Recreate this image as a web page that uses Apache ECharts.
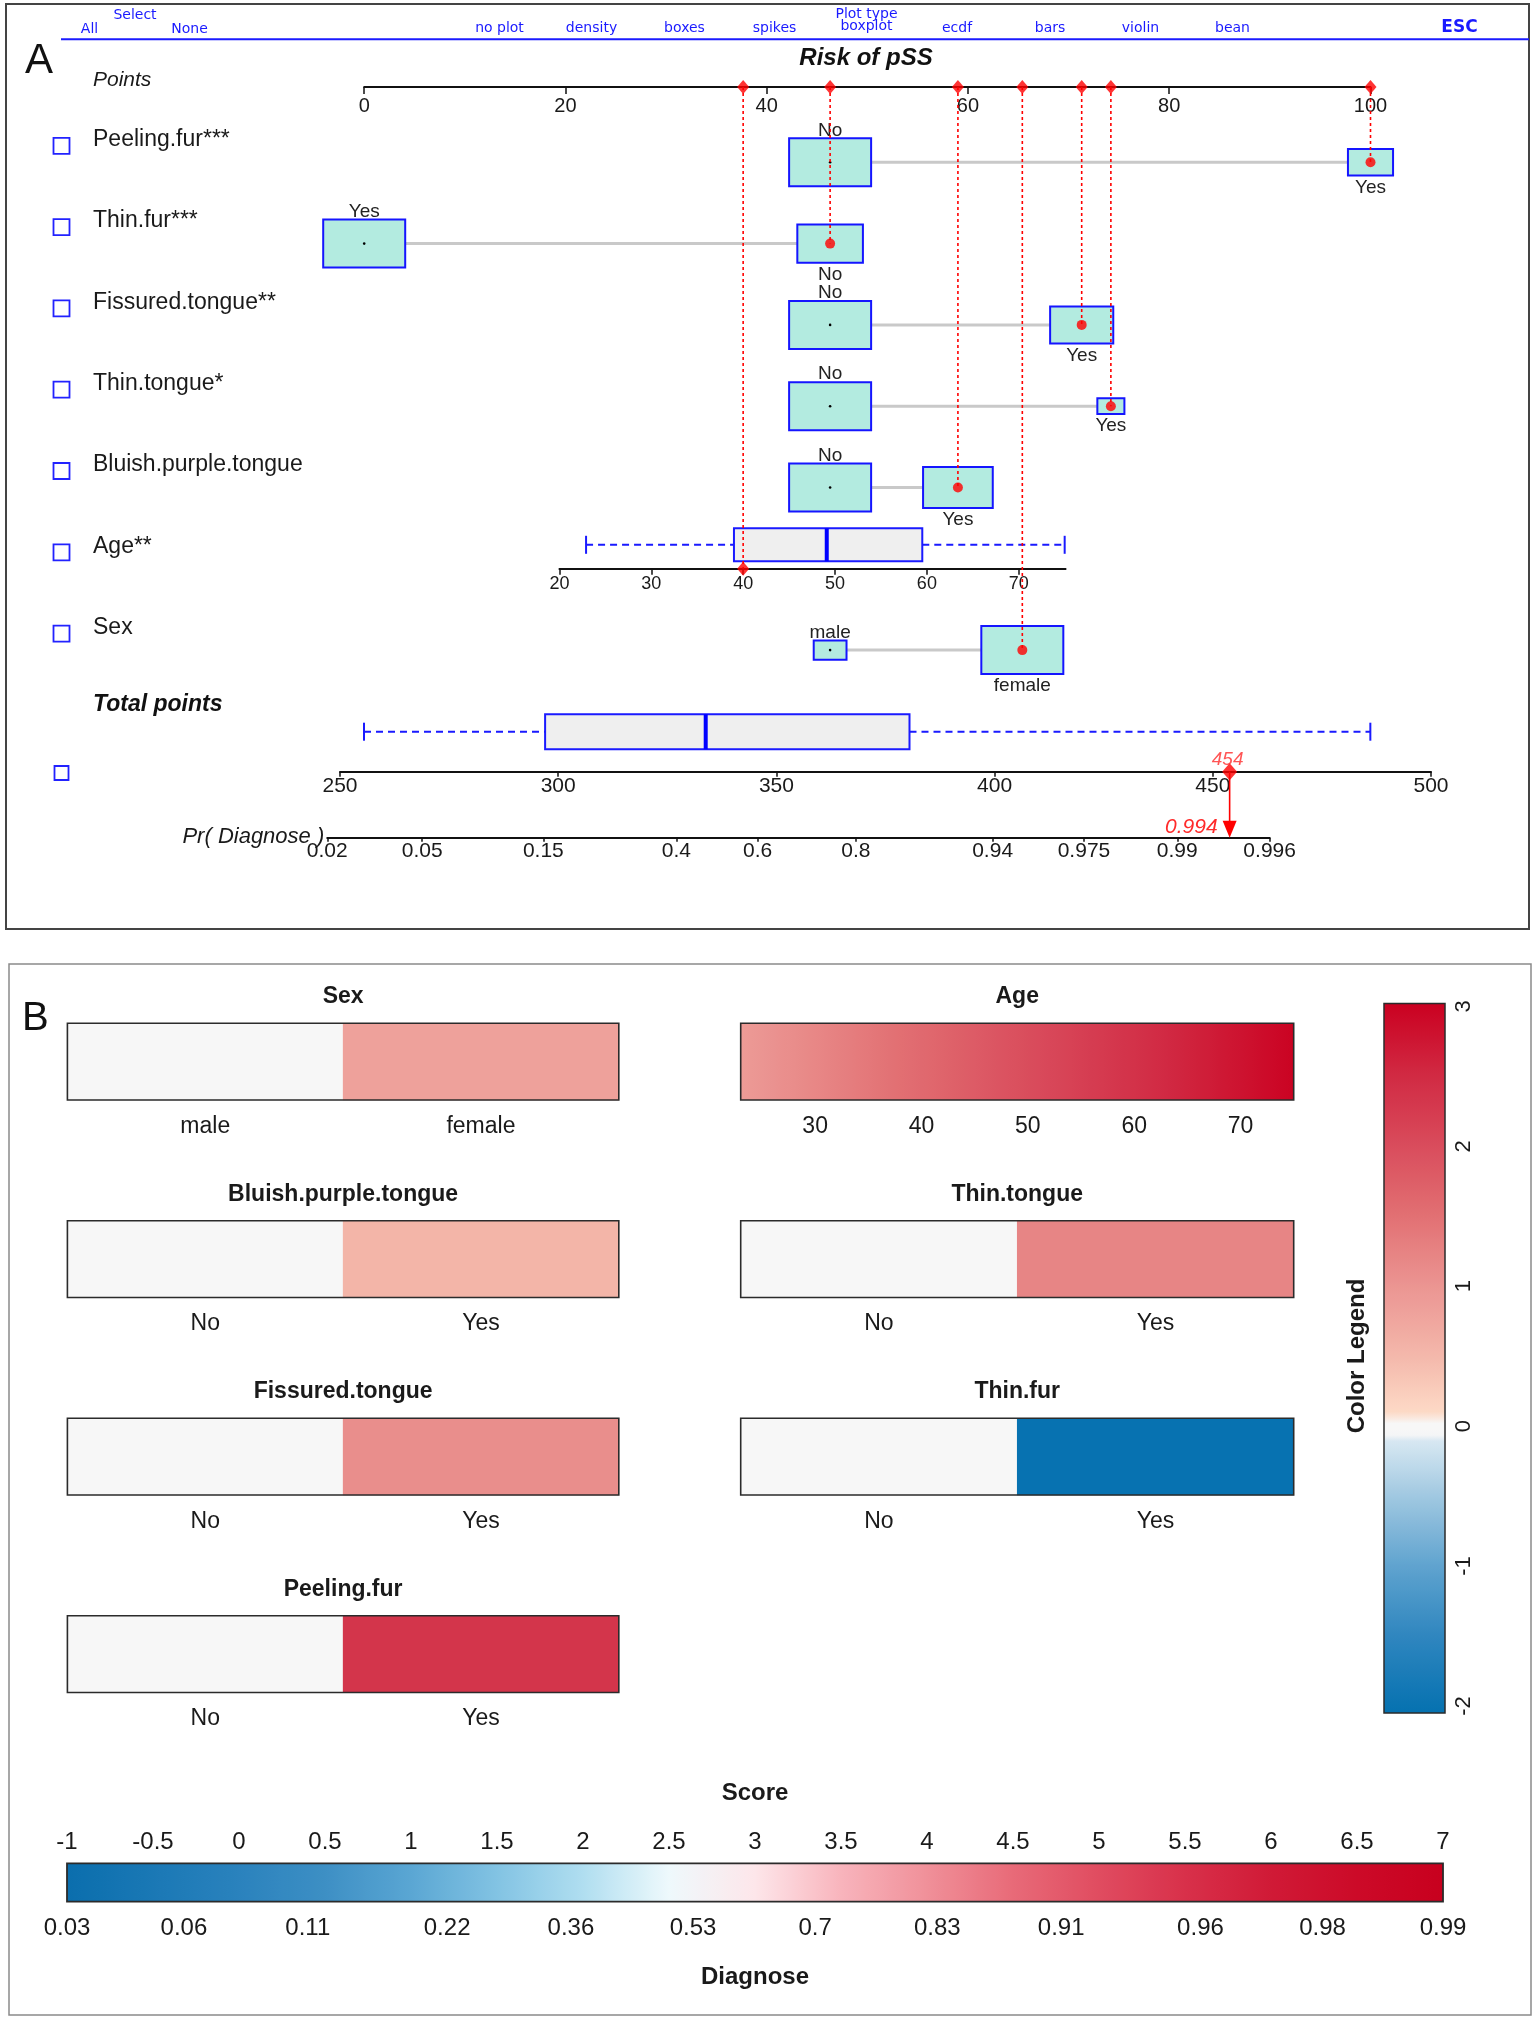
<!DOCTYPE html>
<html><head><meta charset="utf-8">
<script src="https://cdn.jsdelivr.net/npm/echarts@6/dist/echarts.min.js"></script>
<style>html,body{margin:0;padding:0;background:#fff}#c{width:1535px;height:2021px}</style>
</head><body><div id="c"></div>
<script>
// ================= DATA =================
// ---- Panel A : nomogram ----
const rowLabels = ['Peeling.fur***','Thin.fur***','Fissured.tongue**','Thin.tongue*','Bluish.purple.tongue','Age**','Sex'];
const catRowIndex = [0,1,2,3,4,6];
const catLevels  = [['No','Yes'],['Yes','No'],['No','Yes'],['No','Yes'],['No','Yes'],['male','female']];
const catPoints  = [[46.3,100],[0,46.3],[46.3,71.3],[46.3,74.2],[46.3,59.0],[46.3,65.4]];
const catBoxSize = [[1.0,0.55],[1.0,0.80],[1.0,0.77],[1.0,0.33],[1.0,0.85],[0.40,1.0]]; // relative frequency size
const catSelected = [1,1,1,1,1,1];
const ageRowIndex = 5;
const ageAxisTicks = [20,30,40,50,60,70];
const ageAxisRange = [20, 75.1];
const ageAxisPoints = [19.4, 69.7];          // points scale value of the age axis ends
const ageBox = [22.9, 39.0, 49.1, 59.5, 75.0];
const ageSelected = 40;
const pointsRange = [0, 100];
const totalRange = [250, 500];
const totalBox = [255.5, 297.0, 333.8, 380.5, 486.1];
const prTicks = [0.02,0.05,0.15,0.4,0.6,0.8,0.94,0.975,0.99,0.996];
const prPointsAtHalf = 336.4, prPointsPerLogit = 22.95;
const menuItems = [['All',89.5,29],['Select',135,15],['None',189.5,29],['no plot',499.5,28],['density',591.5,28],
  ['boxes',684.5,28],['spikes',774.5,28],['Plot type',866.5,14.5],['boxplot',866.5,26.5],['ecdf',957,28],
  ['bars',1050,28],['violin',1140.5,28],['bean',1232.5,28]];

// ---- Panel B : effect tiles ----
const tileNames   = ['Sex','Age','Bluish.purple.tongue','Thin.tongue','Fissured.tongue','Thin.fur','Peeling.fur'];
const tileLevels  = [['male','female'],null,['No','Yes'],['No','Yes'],['No','Yes'],['No','Yes'],['No','Yes']];
const tileEffects = [[0,0.83],null,[0,0.55],[0,1.22],[0,1.09],[0,-2.02],[0,2.34]];
const ageCoef = 0.0398;
const ageDataRange = [23, 75];
const ageTileTicks = [30,40,50,60,70];
const legendRange = [-2.05, 3.02];
const legendTicks = [-2,-1,0,1,2,3];
const scoreRange = [-1, 7];
const diagTickScores = [-1.0,-0.32,0.40,1.21,1.93,2.64,3.35,4.06,4.78,5.59,6.30,7.0];
const diagTickLabels = ['0.03','0.06','0.11','0.22','0.36','0.53','0.7','0.83','0.91','0.96','0.98','0.99'];

// ================= STYLE / LAYOUT =================
const FONT = 'Liberation Sans, Arial, sans-serif';
const MFONT = 'DejaVu Sans, sans-serif';
const TXT = '#1a1a1a';
const LA = {ptsLeft:364.2, ptsPx:10.063, axisY:87, row0:162.3, rowPitch:81.3, boxW:82, boxH:48,
            totLeft:340, totPx:4.364, totAxisY:771.7, prAxisY:837.7};
const tileCmap = [[-2.05,'#0571b0'],[-1.5,'#2f86bf'],[-1.0,'#5fa3cf'],[-0.5,'#a0c8e1'],[-0.1,'#d8e8f2'],
  [-0.06,'#f7f7f7'],[0.04,'#f7f7f7'],[0.08,'#fddbc7'],[0.5,'#f4b8ab'],[1.0,'#eb9592'],[1.5,'#e27073'],
  [2.0,'#d94c5c'],[2.5,'#d12a43'],[3.02,'#ca0020']];
const scoreCmap = [[-1,'#0a6ead'],[0,'#2a82bd'],[0.5,'#3d8fc4'],[1,'#5aa6d3'],[1.5,'#82c3e3'],[2,'#b0def0'],
  [2.5,'#eef9fc'],[3,'#fde6ea'],[3.5,'#f8b4bc'],[4,'#f09099'],[4.5,'#e86a78'],[5,'#e04c60'],[5.5,'#d8304a'],
  [6,'#d01a36'],[6.5,'#cc0a28'],[7,'#c8001e']];

function hex(h){return [parseInt(h.slice(1,3),16),parseInt(h.slice(3,5),16),parseInt(h.slice(5,7),16)];}
function cmap(stops, v){
  if (v <= stops[0][0]) return stops[0][1];
  if (v >= stops[stops.length-1][0]) return stops[stops.length-1][1];
  for (let i=0;i<stops.length-1;i++){
    const a=stops[i], b=stops[i+1];
    if (v>=a[0] && v<=b[0]){
      const t=(v-a[0])/(b[0]-a[0]); const ca=hex(a[1]), cb=hex(b[1]);
      return 'rgb('+ca.map((c,k)=>Math.round(c+(cb[k]-c)*t)).join(',')+')';
    }
  }
}
function gradStops(stops, v0, v1, n){
  const out=[]; for(let i=0;i<=n;i++){const v=v0+(v1-v0)*i/n; out.push({offset:i/n, color:cmap(stops,v)});} return out;
}

const rowY = i => LA.row0 + i*LA.rowPitch;
const yMin = -(LA.row0 - LA.axisY)/LA.rowPitch;
const ptsToPx = p => LA.ptsLeft + p*LA.ptsPx;
const totToPx = t => LA.totLeft + (t-totalRange[0])*LA.totPx;
const ageToPts = a => ageAxisPoints[0] + (a-ageAxisRange[0])*(ageAxisPoints[1]-ageAxisPoints[0])/(ageAxisRange[1]-ageAxisRange[0]);
const logit = p => Math.log(p/(1-p));
const prToTotal = p => prPointsAtHalf + prPointsPerLogit*logit(p);
const totalToPr = t => 1/(1+Math.exp(-(t-prPointsAtHalf)/prPointsPerLogit));

const selPts = catPoints.map((p,k)=>p[catSelected[k]]);
const agePts = ageToPts(ageSelected);
const totalScore = selPts.reduce((a,b)=>a+b,0) + agePts;

const grids=[], xAxes=[], yAxes=[], series=[];
function addGrid(g){grids.push(Object.assign({containLabel:false, outerBoundsMode:'none', show:false}, g)); return grids.length-1;}
const lbl = (size, extra) => Object.assign({fontSize:size, color:TXT, fontFamily:FONT}, extra||{});

// ---------- rows grid (points scale) ----------
const gRows = addGrid({left:ptsToPx(0), top:LA.axisY, width:ptsToPx(100)-ptsToPx(0), height:rowY(6.5)-LA.axisY});
xAxes.push({gridIndex:gRows, type:'value', min:pointsRange[0], max:pointsRange[1], interval:20, position:'top',
  axisLine:{show:true, onZero:false, lineStyle:{color:'#111', width:2}},
  axisTick:{show:true, inside:true, length:7, lineStyle:{color:'#111', width:1.5}},
  axisLabel:lbl(20,{inside:true, margin:9}), splitLine:{show:false}});
yAxes.push({gridIndex:gRows, type:'value', min:yMin, max:6.5, inverse:true, show:false});
const xRows = xAxes.length-1, yRows = yAxes.length-1;

// connectors
series.push({type:'custom', xAxisIndex:xRows, yAxisIndex:yRows, z:2, silent:true,
  data: catRowIndex.map((r,k)=>[catPoints[k][0], catPoints[k][1], r]),
  renderItem:(p,api)=>{const a=api.coord([api.value(0),api.value(2)]), b=api.coord([api.value(1),api.value(2)]);
    return {type:'line', shape:{x1:a[0],y1:a[1],x2:b[0],y2:b[1]}, style:{stroke:'#c9c9c9', lineWidth:3}};}});
// boxes with level labels
const boxData=[];
catRowIndex.forEach((r,k)=>{
  const lowIdx = catPoints[k][0] <= catPoints[k][1] ? 0 : 1;
  [0,1].forEach(j=>boxData.push([catPoints[k][j], r, catBoxSize[k][j], j===catSelected[k]?1:0, j===lowIdx?-1:1, catLevels[k][j]]));
});
series.push({type:'custom', xAxisIndex:xRows, yAxisIndex:yRows, z:3, silent:true, data:boxData,
  renderItem:(p,api)=>{
    const d=boxData[p.dataIndex]; const c=api.coord([d[0],d[1]]);
    const w=d[2]*LA.boxW, h=d[2]*LA.boxH;
    const ch=[{type:'rect', shape:{x:c[0]-w/2, y:c[1]-h/2, width:w, height:h}, style:{fill:'#b3ebe0', stroke:'#1515ff', lineWidth:2}}];
    if(!d[3]) ch.push({type:'circle', shape:{cx:c[0], cy:c[1], r:1.3}, style:{fill:'#000'}});
    ch.push({type:'text', x:c[0], y: d[4]<0 ? c[1]-h/2-8 : c[1]+h/2+12,
      style:{text:d[5], fontSize:19, fontFamily:FONT, fill:'#222', align:'center', verticalAlign:'middle'}});
    return {type:'group', children:ch};
  }});
// dotted verticals
const vData = catRowIndex.map((r,k)=>[selPts[k], r]).concat([[agePts, ageRowIndex]]);
series.push({type:'custom', xAxisIndex:xRows, yAxisIndex:yRows, z:4, silent:true, data:vData,
  renderItem:(p,api)=>{const a=api.coord([api.value(0), yMin]), b=api.coord([api.value(0), api.value(1)]);
    return {type:'line', shape:{x1:a[0],y1:a[1],x2:b[0],y2:b[1]}, style:{stroke:'#ff0000', lineWidth:1.6, lineDash:[3,3]}};}});
// selected dots
series.push({type:'scatter', xAxisIndex:xRows, yAxisIndex:yRows, z:5, silent:true, clip:false, symbol:'circle', symbolSize:10,
  itemStyle:{color:'#ff0000'}, data: catRowIndex.map((r,k)=>[selPts[k], r])});
// diamonds on points axis
series.push({type:'scatter', xAxisIndex:xRows, yAxisIndex:yRows, z:6, silent:true, clip:false, symbol:'diamond', symbolSize:[12,14],
  itemStyle:{color:'#ff0000'}, data: selPts.concat([agePts]).map(v=>[v, yMin])});

// ---------- boxplot renderer ----------
function boxItem(halfH, capH){
  return (p,api)=>{
    const q=[0,1,2,3,4].map(i=>api.value(i));
    const yc=api.coord([q[2],0.5])[1]; const X=v=>api.coord([v,0.5])[0];
    const ds={stroke:'#1a1aff', lineWidth:2, lineDash:[7,5]};
    return {type:'group', children:[
      {type:'line', shape:{x1:X(q[0]),y1:yc,x2:X(q[1]),y2:yc}, style:ds},
      {type:'line', shape:{x1:X(q[3]),y1:yc,x2:X(q[4]),y2:yc}, style:ds},
      {type:'line', shape:{x1:X(q[0]),y1:yc-capH,x2:X(q[0]),y2:yc+capH}, style:{stroke:'#1a1aff', lineWidth:2}},
      {type:'line', shape:{x1:X(q[4]),y1:yc-capH,x2:X(q[4]),y2:yc+capH}, style:{stroke:'#1a1aff', lineWidth:2}},
      {type:'rect', shape:{x:X(q[1]), y:yc-halfH, width:X(q[3])-X(q[1]), height:2*halfH}, style:{fill:'#efefef', stroke:'#1a1aff', lineWidth:2}},
      {type:'line', shape:{x1:X(q[2]),y1:yc-halfH,x2:X(q[2]),y2:yc+halfH}, style:{stroke:'#0000ff', lineWidth:4}}
    ]};
  };
}

// ---------- age axis grid ----------
const gAge = addGrid({left:ptsToPx(ageAxisPoints[0]), width:ptsToPx(ageAxisPoints[1])-ptsToPx(ageAxisPoints[0]), top:rowY(ageRowIndex)-48, height:48});
xAxes.push({gridIndex:gAge, type:'value', min:ageAxisRange[0], max:ageAxisRange[1], position:'bottom',
  axisLine:{show:true, onZero:false, lineStyle:{color:'#111', width:2}},
  axisTick:{show:true, length:6, customValues:ageAxisTicks, lineStyle:{color:'#111', width:1.5}},
  axisLabel:lbl(18,{margin:6, customValues:ageAxisTicks}), splitLine:{show:false}});
yAxes.push({gridIndex:gAge, type:'value', min:0, max:1, show:false});
const xAge=xAxes.length-1, yAge=yAxes.length-1;
series.push({type:'custom', xAxisIndex:xAge, yAxisIndex:yAge, z:3, silent:true, data:[ageBox], renderItem:boxItem(16.5,9)});
series.push({type:'scatter', xAxisIndex:xAge, yAxisIndex:yAge, z:6, silent:true, clip:false, symbol:'diamond', symbolSize:[12,14],
  itemStyle:{color:'#ff0000'}, data:[[ageSelected,0]]});

// ---------- total points grid ----------
const gTot = addGrid({left:totToPx(totalRange[0]), width:totToPx(totalRange[1])-totToPx(totalRange[0]), top:LA.totAxisY-80, height:80});
xAxes.push({gridIndex:gTot, type:'value', min:totalRange[0], max:totalRange[1], interval:50, position:'bottom',
  axisLine:{show:true, onZero:false, lineStyle:{color:'#111', width:2}},
  axisTick:{show:true, length:5, lineStyle:{color:'#111', width:1.5}},
  axisLabel:lbl(21,{margin:4}), splitLine:{show:false}});
yAxes.push({gridIndex:gTot, type:'value', min:0, max:1, show:false});
const xTot=xAxes.length-1, yTot=yAxes.length-1;
series.push({type:'custom', xAxisIndex:xTot, yAxisIndex:yTot, z:3, silent:true, data:[totalBox], renderItem:boxItem(17.5,9)});
series.push({type:'scatter', xAxisIndex:xTot, yAxisIndex:yTot, z:6, silent:true, clip:false, symbol:'diamond', symbolSize:[15,17],
  itemStyle:{color:'#ff0000'}, data:[[totalScore,0]],
  label:{show:true, position:'inside', offset:[-2,-12], formatter:()=>String(Math.round(totalScore)),
    color:'#ff2a2a', fontStyle:'italic', fontSize:19, fontFamily:FONT}});

// ---------- Pr( Diagnose ) grid ----------
const prLeft = totToPx(prToTotal(prTicks[0])), prRight = totToPx(prToTotal(prTicks[prTicks.length-1]));
const gPr = addGrid({left:prLeft, width:prRight-prLeft, top:LA.totAxisY, height:LA.prAxisY-LA.totAxisY});
const prTickVals = prTicks.map(prToTotal);
xAxes.push({gridIndex:gPr, type:'value', min:prTickVals[0], max:prTickVals[prTickVals.length-1], position:'bottom',
  axisLine:{show:true, onZero:false, lineStyle:{color:'#111', width:2}},
  axisTick:{show:true, length:4, customValues:prTickVals, lineStyle:{color:'#111', width:1.5}},
  axisLabel:lbl(21,{margin:3, customValues:prTickVals, formatter:v=>{let bi=0,bd=1e9; prTickVals.forEach((t,i)=>{const d=Math.abs(t-v); if(d<bd){bd=d;bi=i;}}); return String(prTicks[bi]);}}),
  splitLine:{show:false}});
yAxes.push({gridIndex:gPr, type:'value', min:0, max:1, show:false});
const xPr=xAxes.length-1, yPr=yAxes.length-1;
series.push({type:'custom', xAxisIndex:xPr, yAxisIndex:yPr, z:6, silent:true, data:[[totalScore]],
  renderItem:(p,api)=>{
    const t=api.coord([api.value(0),1]), b=api.coord([api.value(0),0]);
    return {type:'group', children:[
      {type:'line', shape:{x1:t[0],y1:t[1],x2:b[0],y2:b[1]-15}, style:{stroke:'#ff0000', lineWidth:1.6}},
      {type:'polygon', shape:{points:[[b[0]-7,b[1]-17],[b[0]+7,b[1]-17],[b[0],b[1]]]}, style:{fill:'#ff0000'}},
      {type:'text', x:b[0]-12, y:b[1]-11, style:{text:totalToPr(totalScore).toFixed(3), fontSize:21, fontStyle:'italic',
        fontFamily:FONT, fill:'#ff2a2a', align:'right', verticalAlign:'middle'}}
    ]};
  }});

// ================= Panel B =================
const TB = {colLeft:[67.4,740.7], colWidth:[551.4,553], top0:1023.3, pitch:197.5, h:76.7};
const heatIdx=[];
const outlineItem=(p,api)=>{const cs=p.coordSys; return {type:'rect', shape:{x:cs.x,y:cs.y,width:cs.width,height:cs.height}, style:{fill:'none', stroke:'#2b2b2b', lineWidth:1.6}};};
const tileTitles=[];
tileNames.forEach((name,k)=>{
  const col=k%2, row=Math.floor(k/2);
  const g=addGrid({left:TB.colLeft[col], width:TB.colWidth[col], top:TB.top0+row*TB.pitch, height:TB.h});
  tileTitles.push([name, TB.colLeft[col]+TB.colWidth[col]/2, TB.top0+row*TB.pitch-26.6]);
  if (tileLevels[k]) {
    xAxes.push({gridIndex:g, type:'category', data:tileLevels[k], axisLine:{show:false}, axisTick:{show:false},
      axisLabel:lbl(23,{margin:15}), splitLine:{show:false}});
    yAxes.push({gridIndex:g, type:'category', data:[''], show:false});
    const xi=xAxes.length-1, yi=yAxes.length-1;
    heatIdx.push(series.length);
    series.push({type:'heatmap', xAxisIndex:xi, yAxisIndex:yi, silent:true, z:2,
      data: tileEffects[k].map((v,j)=>[j,0,v]), itemStyle:{borderWidth:0}, emphasis:{disabled:true}});
    series.push({type:'custom', xAxisIndex:xi, yAxisIndex:yi, z:5, silent:true, data:[[0,0]], renderItem:outlineItem});
  } else {
    xAxes.push({gridIndex:g, type:'value', min:ageDataRange[0], max:ageDataRange[1], axisLine:{show:false}, axisTick:{show:false},
      axisLabel:lbl(23,{margin:15, customValues:ageTileTicks}), splitLine:{show:false}});
    yAxes.push({gridIndex:g, type:'value', min:0, max:1, show:false});
    const xi=xAxes.length-1, yi=yAxes.length-1;
    series.push({type:'custom', xAxisIndex:xi, yAxisIndex:yi, z:2, silent:true, data:[ageDataRange],
      renderItem:(p,api)=>{
        const a0=api.value(0), a1=api.value(1); const p0=api.coord([a0,0]), p1=api.coord([a1,1]);
        const stops=[]; for(let a=a0;a<=a1;a++) stops.push({offset:(a-a0)/(a1-a0), color:cmap(tileCmap, ageCoef*a)});
        return {type:'rect', shape:{x:p0[0], y:p1[1], width:p1[0]-p0[0], height:p0[1]-p1[1]},
          style:{fill:new echarts.graphic.LinearGradient(0,0,1,0,stops)}};
      }});
    series.push({type:'custom', xAxisIndex:xi, yAxisIndex:yi, z:5, silent:true, data:[[ageDataRange[0],0]], renderItem:outlineItem});
  }
});

// ---------- colour legend ----------
const gLeg = addGrid({left:1384, top:1003.6, width:61, height:709.4});
xAxes.push({gridIndex:gLeg, type:'value', min:0, max:1, show:false});
yAxes.push({gridIndex:gLeg, type:'value', min:legendRange[0], max:legendRange[1], show:false});
const xLeg=xAxes.length-1, yLeg=yAxes.length-1;
series.push({type:'custom', xAxisIndex:xLeg, yAxisIndex:yLeg, z:2, silent:true, data:[legendRange],
  renderItem:(p,api)=>{const b=api.coord([0,api.value(0)]), t=api.coord([1,api.value(1)]);
    return {type:'rect', shape:{x:b[0], y:t[1], width:t[0]-b[0], height:b[1]-t[1]},
      style:{fill:new echarts.graphic.LinearGradient(0,1,0,0, gradStops(tileCmap, legendRange[0], legendRange[1], 120)), stroke:'#2b2b2b', lineWidth:1.5}};}});
series.push({type:'custom', xAxisIndex:xLeg, yAxisIndex:yLeg, z:5, silent:true, data:legendTicks.map(v=>[1,v]),
  renderItem:(p,api)=>{const c=api.coord([1,api.value(1)]);
    return {type:'text', x:c[0]+19, y:c[1], rotation:Math.PI/2,
      style:{text:String(api.value(1)), fontSize:22, fontFamily:FONT, fill:TXT, align:'center', verticalAlign:'middle'}};}});

// ---------- score bar ----------
const gSc = addGrid({left:67, top:1863.3, width:1376, height:38.4});
xAxes.push({gridIndex:gSc, type:'value', min:scoreRange[0], max:scoreRange[1], interval:0.5, position:'top',
  name:'Score', nameLocation:'middle', nameGap:58, nameTextStyle:lbl(24,{fontWeight:'bold'}),
  axisLine:{show:false}, axisTick:{show:false}, axisLabel:lbl(24,{margin:9}), splitLine:{show:false}});
const xSc=xAxes.length-1;
xAxes.push({gridIndex:gSc, type:'value', min:scoreRange[0], max:scoreRange[1], position:'bottom',
  name:'Diagnose', nameLocation:'middle', nameGap:64, nameTextStyle:lbl(24,{fontWeight:'bold'}),
  axisLine:{show:false}, axisTick:{show:false},
  axisLabel:lbl(24,{margin:15, customValues:diagTickScores, formatter:v=>{let bi=0,bd=1e9; diagTickScores.forEach((t,i)=>{const d=Math.abs(t-v); if(d<bd){bd=d;bi=i;}}); return diagTickLabels[bi];}}),
  splitLine:{show:false}});
yAxes.push({gridIndex:gSc, type:'value', min:0, max:1, show:false});
const ySc=yAxes.length-1;
series.push({type:'custom', xAxisIndex:xSc, yAxisIndex:ySc, z:2, silent:true, data:[scoreRange],
  renderItem:(p,api)=>{const a=api.coord([api.value(0),0]), b=api.coord([api.value(1),1]);
    return {type:'rect', shape:{x:a[0], y:b[1], width:b[0]-a[0], height:a[1]-b[1]},
      style:{fill:new echarts.graphic.LinearGradient(0,0,1,0, gradStops(scoreCmap, scoreRange[0], scoreRange[1], 160)), stroke:'#2b2b2b', lineWidth:1.8}};}});

// ---------- static graphics (frames, labels, menu) ----------
const T=(text,x,y,o)=>({type:'text', x, y, silent:true, z:20, style:Object.assign({text, fontSize:20, fontFamily:FONT, fill:TXT, align:'left', verticalAlign:'middle'}, o||{})});
const graphics=[
  {type:'rect', silent:true, z:1, shape:{x:6,y:4,width:1523,height:925}, style:{fill:'none', stroke:'#444', lineWidth:2}},
  {type:'rect', silent:true, z:1, shape:{x:9,y:964,width:1522,height:1051}, style:{fill:'none', stroke:'#8a8a8a', lineWidth:1.5}},
  {type:'line', silent:true, z:1, shape:{x1:61,y1:39.3,x2:1529,y2:39.3}, style:{stroke:'#1a1aff', lineWidth:2}},
  T('ESC',1459.5,28,{fontFamily:MFONT, fontSize:17, fontWeight:'bold', fill:'#1a1aff', align:'center'}),
  T('A',25,61,{fontSize:42, fill:'#111'}),
  T('B',22,1019,{fontSize:40, fill:'#111'}),
  T('Risk of pSS',866,58,{fontSize:24, fontWeight:'bold', fontStyle:'italic', align:'center', fill:'#111'}),
  T('Points',93,80,{fontSize:21, fontStyle:'italic'}),
  T('Total points',93,705,{fontSize:23, fontWeight:'bold', fontStyle:'italic', fill:'#111'}),
  T('Pr( Diagnose )',prLeft-3,LA.prAxisY-1,{fontSize:22, fontStyle:'italic', align:'right'}),
  {type:'rect', silent:true, z:20, shape:{x:54.5,y:766,width:14,height:14}, style:{fill:'none', stroke:'#2222ff', lineWidth:1.8}},
  T('Color Legend',1357,1356,{fontSize:24, fontWeight:'bold', align:'center'})
];
graphics[graphics.length-1].rotation=Math.PI/2;
menuItems.forEach(m=>graphics.push(T(m[0],m[1],m[2],{fontFamily:MFONT, fontSize:14, fill:'#1a1aff', align:'center'})));
rowLabels.forEach((s,i)=>{
  graphics.push(T(s,93,rowY(i)-22.5,{fontSize:23}));
  graphics.push({type:'rect', silent:true, z:20, shape:{x:53.5,y:rowY(i)-24.5,width:16,height:16}, style:{fill:'none', stroke:'#2222ff', lineWidth:1.8}});
});
tileTitles.forEach(t=>graphics.push(T(t[0],t[1],t[2],{fontSize:23, fontWeight:'bold', align:'center'})));

const chart = echarts.init(document.getElementById('c'), null, {renderer:'canvas', width:1535, height:2021});
chart.setOption({
  animation:false, backgroundColor:'#ffffff', textStyle:{fontFamily:FONT},
  grid:grids, xAxis:xAxes, yAxis:yAxes, series:series, graphic:graphics,
  visualMap:[{type:'continuous', show:false, min:legendRange[0], max:legendRange[1], dimension:2, seriesIndex:heatIdx,
    inRange:{color: gradStops(tileCmap, legendRange[0], legendRange[1], 100).map(s=>s.color)}}]
});
</script></body></html>
